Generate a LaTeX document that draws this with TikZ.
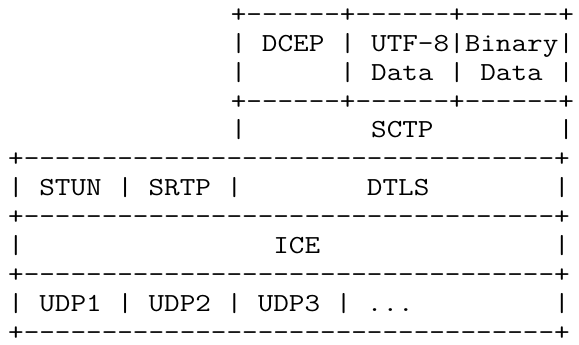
\documentclass[tikz,border=0pt]{standalone}
\usepackage{fontspec}
\usepackage{graphicx}
\newcommand{\asc}[1]{\scalebox{1.165}[1]{#1}}
\tikzset{
  row/.style={anchor=base west, inner sep=0pt, text depth=0pt, font=\fontsize{26}{29}\selectfont\ttfamily},
}

\begin{document}
\begin{tikzpicture}[x=1pt,y=1pt]
 \useasboundingbox (0,0) rectangle (579,-345);

 % data channel stack
 \node[row] (app_top) at (230.6,-22.4) {\asc{+------+------+------+}};
 \node[row] (app) at (230.6,-51.3) {\asc{|~DCEP~|~UTF-8|Binary|}};
 \node[row] (app_data) at (230.6,-80.2) {\asc{|~~~~~~|~Data~|~Data~|}};
 \node[row] (app_bot) at (230.6,-109.1) {\asc{+------+------+------+}};
 \node[row] (sctp) at (230.6,-138.0) {\asc{|~~~~~~~~SCTP~~~~~~~~|}};

 % transport stack
 \node[row] (sctp_bot) at (8,-166.9) {\asc{+----------------------------------+}};
 \node[row] (dtls) at (8,-195.8) {\asc{|~STUN~|~SRTP~|~~~~~~~~DTLS~~~~~~~~|}};
 \node[row] (dtls_bot) at (8,-224.7) {\asc{+----------------------------------+}};
 \node[row] (ice) at (8,-253.6) {\asc{|~~~~~~~~~~~~~~~~ICE~~~~~~~~~~~~~~~|}};
 \node[row] (ice_bot) at (8,-282.5) {\asc{+----------------------------------+}};
 \node[row] (udp) at (8,-311.4) {\asc{|~UDP1~|~UDP2~|~UDP3~|~...~~~~~~~~~|}};
 \node[row] (udp_bot) at (8,-340.3) {\asc{+----------------------------------+}};
\end{tikzpicture}
\end{document}
